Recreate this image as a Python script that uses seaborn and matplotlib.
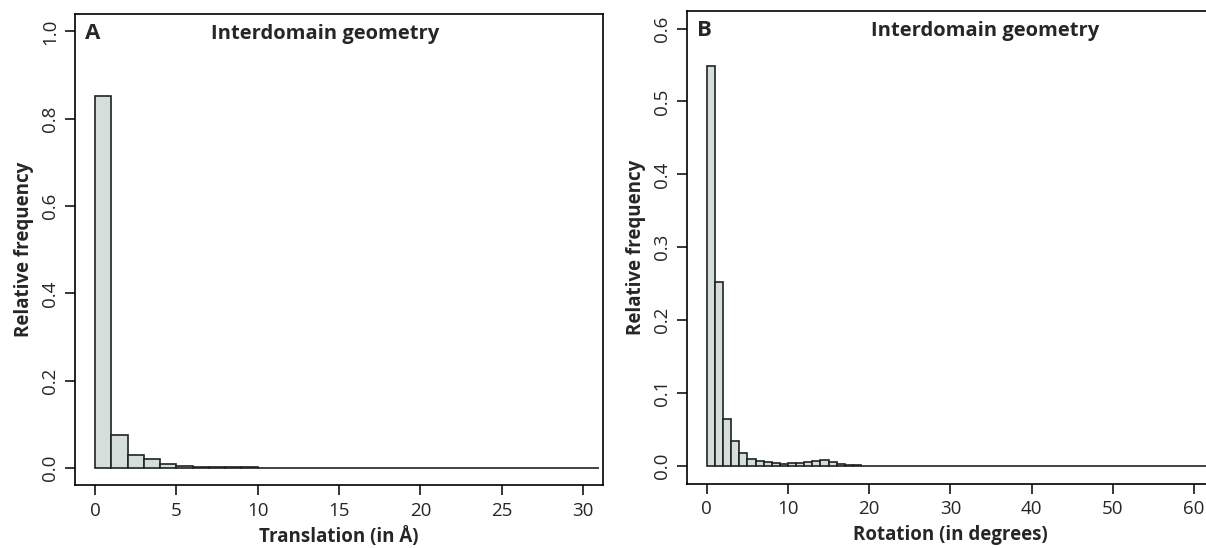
import numpy as np
import matplotlib
matplotlib.use("Agg")
import matplotlib.pyplot as plt
import seaborn as sns

# Relative frequencies per 1-unit bin
trans_edges = list(range(0, 32))
trans_freq = [0.8525, 0.075, 0.0307, 0.020, 0.010, 0.0046, 0.003, 0.0015,
              0.0012, 0.0012, 0.0008, 0.0006, 0.0005, 0.0004, 0.0003, 0.0003,
              0.0002, 0.0002, 0.0002, 0.0001, 0.0001, 0.0001, 0.0001, 0.0001,
              0.0001, 0.0001, 0.0001, 0.0001, 0.0001, 0.0001, 0.0001]

rot_edges = list(range(0, 64))
rot_freq = [0.549, 0.253, 0.0645, 0.0347, 0.0183, 0.0096, 0.0064, 0.0050,
            0.0046, 0.0032, 0.0037, 0.0041, 0.0050, 0.0069, 0.0082, 0.0055,
            0.0032, 0.0018, 0.0009, 0.0006, 0.0005, 0.0005, 0.0004, 0.0004,
            0.0004, 0.0003, 0.0003, 0.0002, 0.0002, 0.0002, 0.0002, 0.0001,
            0.0001, 0.0001, 0.0001, 0.0001, 0.0001, 0.0001, 0.0001, 0.0001,
            0.0001, 0.0001, 0.0001, 0.0001, 0.0001, 0.0001, 0.0001, 0.0001,
            0.0001, 0.0001, 0.0001, 0.0001, 0.0001, 0.0001, 0.0001, 0.0001,
            0.0001, 0.0001, 0.0001, 0.0001, 0.0001, 0.0001, 0.0001]

sns.set_theme(style="white")
plt.rcParams["font.family"] = ["Open Sans", "DejaVu Sans"]

BAR_FILL = "#d6dedc"
BAR_EDGE = "#1e2222"

fig = plt.figure(figsize=(12.06, 5.48), dpi=100)
axA = fig.add_axes([0.0626, 0.1142, 0.4371, 0.8602])
axB = fig.add_axes([0.5699, 0.1177, 0.4363, 0.8622])


def panel(ax, edges, freq, xlim, ylim, xticks, yticks, xlabel, letter, title_x):
    left = np.array(edges[:-1], dtype=float) + 0.5
    sns.histplot(x=left, weights=freq, bins=edges, stat="count", ax=ax,
                 color=BAR_FILL, edgecolor=BAR_EDGE, linewidth=1.2, alpha=1)
    ax.set_xlim(*xlim)
    ax.set_ylim(*ylim)
    ax.set_xticks(xticks)
    ax.set_yticks(yticks)
    ax.set_yticklabels([f"{v:.1f}" for v in yticks], rotation=90, va="center")
    ax.set_xticklabels([str(v) for v in xticks])
    ax.tick_params(axis="both", direction="out", length=7, width=1.1,
                   color="black", labelsize=13.5, pad=5, bottom=True, left=True)
    for s in ax.spines.values():
        s.set_visible(True)
        s.set_color("black")
        s.set_linewidth(1.2)
    ax.set_xlabel(xlabel, fontsize=13.5, fontweight="bold", labelpad=5)
    ax.set_ylabel("Relative frequency", fontsize=13.5, fontweight="bold", labelpad=5)
    ax.text(0.018, 0.958, letter, transform=ax.transAxes, fontsize=16,
            fontweight="bold", ha="left", va="center")
    ax.text(title_x, 0.958, "Interdomain geometry", transform=ax.transAxes,
            fontsize=14.5, fontweight="bold", ha="center", va="center")
    ax.grid(False)


panel(axA, trans_edges, trans_freq, (-1.2, 31.2), (-0.04, 1.04),
      [0, 5, 10, 15, 20, 25, 30], [0.0, 0.2, 0.4, 0.6, 0.8, 1.0],
      "Translation (in Å)", "A", 0.473)
panel(axB, rot_edges, rot_freq, (-2.4, 62.4), (-0.024, 0.624),
      [0, 10, 20, 30, 40, 50, 60], [0.0, 0.1, 0.2, 0.3, 0.4, 0.5, 0.6],
      "Rotation (in degrees)", "B", 0.566)

fig.savefig("out.png", dpi=100)
